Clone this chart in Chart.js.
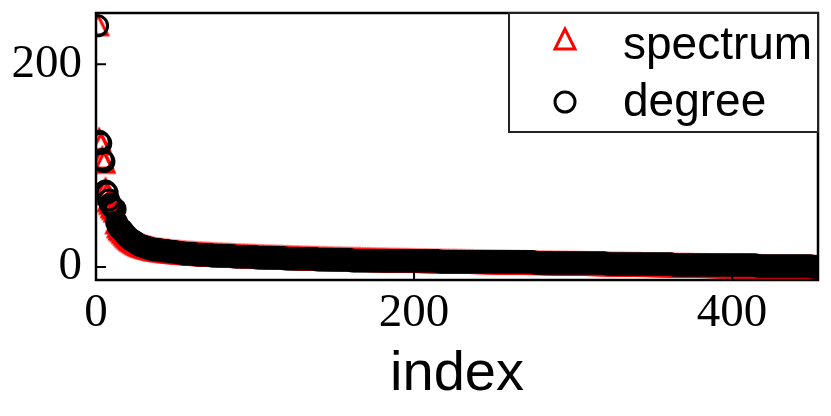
<!DOCTYPE html>
<html lang="en">
<head>
    <meta charset="UTF-8">
    <title>Spectrum vs Degree</title>
    <script src="https://cdn.jsdelivr.net/npm/chart.js"></script>
    <style>
        body {
            margin: 0;
            padding: 0;
            background: white;
        }
        #chartCanvas {
            display: block;
        }
    </style>
</head>
<body>
    <canvas id="chartCanvas" width="831" height="416"></canvas>

    <script>
        // values, one per index (x = 1..453)
        const spectrum = [
            239.0,125.6,121.3,107.4,103.2,76.3,72.1,65.4,62.8,59.5,
            57.6,55.2,43.5,39.6,37.4,35.9,34.1,32.3,30.6,29.1,
            27.6,26.5,25.5,24.4,23.5,22.6,21.8,21.2,20.6,20.1,
            19.6,19.2,18.7,18.3,17.9,
            17.5,17.2,16.9,16.7,16.4,
            16.2,16.0,15.8,15.6,15.4,
            15.2,15.0,14.8,14.7,14.5,
            14.4,14.2,14.1,13.9,13.8,
            13.7,13.5,13.4,13.3,13.2,
            13.1,13.0,12.9,12.8,12.7,12.6,12.5,12.4,12.3,12.3,
            12.2,12.1,12.0,11.9,11.9,11.8,11.7,11.6,11.6,11.5,
            11.4,11.3,11.3,11.2,11.1,11.0,11.0,10.9,10.8,10.8,
            10.7,10.6,10.6,10.5,10.4,10.4,10.3,10.2,10.2,10.1,
            10.0,10.0,9.9,9.9,9.8,9.7,9.7,9.6,9.6,9.5,
            9.5,9.4,9.4,9.3,9.3,9.2,9.2,9.1,9.1,9.0,
            9.0,8.9,8.9,8.8,8.8,8.7,8.7,8.6,8.6,8.5,
            8.5,8.4,8.4,8.4,8.3,8.3,8.2,8.2,8.1,8.1,
            8.0,8.0,8.0,7.9,7.9,7.8,7.8,7.8,7.7,7.7,
            7.6,7.6,7.6,7.5,7.5,7.4,7.4,7.4,7.3,7.3,
            7.3,7.2,7.2,7.1,7.1,7.1,7.0,7.0,7.0,6.9,
            6.9,6.9,6.8,6.8,6.8,6.7,6.7,6.7,6.6,6.6,
            6.6,6.5,6.5,6.5,6.4,6.4,6.4,6.3,6.3,6.3,
            6.3,6.2,6.2,6.2,6.1,6.1,6.1,6.0,6.0,6.0,
            6.0,5.9,5.9,5.9,5.8,5.8,5.8,5.8,5.7,5.7,
            5.7,5.6,5.6,5.6,5.6,5.5,5.5,5.5,5.5,5.4,
            5.4,5.4,5.3,5.3,5.3,5.3,5.2,5.2,5.2,5.2,
            5.1,5.1,5.1,5.0,5.0,5.0,5.0,4.9,4.9,4.9,
            4.9,4.8,4.8,4.8,4.7,4.7,4.7,4.7,4.6,4.6,
            4.6,4.6,4.5,4.5,4.5,4.4,4.4,4.4,4.4,4.3,
            4.3,4.3,4.3,4.2,4.2,4.2,4.1,4.1,4.1,4.1,
            4.0,4.0,4.0,4.0,3.9,3.9,3.9,3.8,3.8,3.8,
            3.8,3.7,3.7,3.7,3.7,3.6,3.6,3.6,3.5,3.5,
            3.5,3.5,3.4,3.4,3.4,3.4,3.3,3.3,3.3,3.2,
            3.2,3.2,3.2,3.1,3.1,3.1,3.1,3.0,3.0,3.0,
            2.9,2.9,2.9,2.9,2.8,2.8,2.8,2.8,2.7,2.7,
            2.7,2.6,2.6,2.6,2.6,2.5,2.5,2.5,2.5,2.4,
            2.4,2.4,2.3,2.3,2.3,2.3,2.2,2.2,2.2,2.2,
            2.1,2.1,2.1,2.0,2.0,2.0,2.0,1.9,1.9,1.9,
            1.9,1.8,1.8,1.8,1.7,1.7,1.7,1.7,1.6,1.6,
            1.6,1.6,1.5,1.5,1.5,1.4,1.4,1.4,1.4,1.3,
            1.3,1.3,1.3,1.2,1.2,1.2,1.1,1.1,1.1,1.1,
            1.0,1.0,1.0,1.0,0.9,0.9,0.9,0.8,0.8,0.8,
            0.8,0.7,0.7,0.7,0.7,0.6,0.6,0.6,0.5,0.5,
            0.5,0.5,0.4,0.4,0.4,0.4,0.3,0.3,0.3,0.2,
            0.2,0.2,0.2,0.1,0.1,0.1,0.1,0.0,0.0,0.0,
            0.0,-0.1,-0.1,-0.1,-0.1,-0.1,-0.2,-0.2,-0.2,-0.2,
            -0.2,-0.3,-0.3,-0.3,-0.3,-0.3,-0.4,-0.4,-0.4,-0.4,
            -0.4,-0.4,-0.5,-0.5,-0.5,-0.5,-0.5,-0.5,-0.6,-0.6,-0.6,-0.6,-0.6
        ];

        const degree = [
            238,124,122,106,104,75,73,66,62,60,
            58,57,44,40,38,37,35,33,31,30,
            28,27,26,25,24,23,22,21,21,20,
            20,19,19,18,18,
            17,17,17,17,17,16,16,16,16,16,
            15,15,15,15,15,14,14,14,14,13,
            13,13,13,13,13,13,13,12,12,12,
            12,12,12,12,12,12,12,11,11,11,
            11,11,11,11,11,11,11,11,11,11,
            11,10,10,10,10,10,10,10,10,10,
            10,10,10,10,10,9,9,9,9,9,
            9,9,9,9,9,9,9,9,9,9,
            9,9,9,8,8,8,8,8,8,8,
            8,8,8,8,8,8,8,8,8,8,
            8,8,8,7,7,7,7,7,7,7,
            7,7,7,7,7,7,7,7,7,7,
            7,7,7,7,7,6,6,6,6,6,
            6,6,6,6,6,6,6,6,6,6,
            6,6,6,6,6,6,6,6,6,6,
            6,6,6,6,6,6,6,6,6,6,
            6,6,6,6,6,6,6,6,6,6,
            6,6,6,6,6,6,6,6,6,6,
            5,5,5,5,5,5,5,5,5,5,
            5,5,5,5,5,5,5,5,5,5,
            5,5,5,5,5,5,5,5,5,5,
            5,5,5,5,5,5,5,5,5,5,
            5,5,5,5,5,5,5,5,5,5,
            5,5,5,5,5,5,5,5,5,5,
            4,4,4,4,4,4,4,4,4,4,
            4,4,4,4,4,4,4,4,4,4,
            4,4,4,4,4,4,4,4,4,4,
            4,4,4,4,4,4,4,4,4,4,
            4,4,4,4,4,3,3,3,3,3,
            3,3,3,3,3,3,3,3,3,3,
            3,3,3,3,3,3,3,3,3,3,
            3,3,3,3,3,3,3,3,3,3,
            3,3,3,3,3,3,3,2,2,2,
            2,2,2,2,2,2,2,2,2,2,
            2,2,2,2,2,2,2,2,2,2,
            2,2,2,2,2,2,2,2,2,2,
            2,2,2,2,2,2,2,2,2,2,
            2,2,2,2,2,2,2,2,2,2,
            1,1,1,1,1,1,1,1,1,1,
            1,1,1,1,1,1,1,1,1,1,
            1,1,1,1,1,1,1,1,1,1,
            1,1,1,1,1,0,0,0
        ];

        const seriesLabels = ['spectrum', 'degree'];
        const xTicks = [0, 200, 400];
        const yTicks = [0, 200];
        const xTitle = 'index';

        const SERIF = '"Liberation Serif", "DejaVu Serif", serif';
        const SANS = '"Liberation Sans", "DejaVu Sans", sans-serif';

        // matplotlib-like '^' marker (isoceles, open)
        const makeTriangle = () => {
            const c = document.createElement('canvas');
            c.width = 32;
            c.height = 32;
            const g = c.getContext('2d');
            g.strokeStyle = '#ff0000';
            g.lineWidth = 3;
            g.lineJoin = 'miter';
            g.beginPath();
            g.moveTo(16, 6);
            g.lineTo(6, 26);
            g.lineTo(26, 26);
            g.closePath();
            g.stroke();
            return c;
        };
        const triangle = makeTriangle();

        const toPoints = (values) => values.map((v, i) => ({ x: i + 1, y: v }));

        const drawCircle = (ctx, x, y) => {
            ctx.beginPath();
            ctx.arc(x, y, 10, 0, Math.PI * 2);
            ctx.strokeStyle = '#000';
            ctx.lineWidth = 3;
            ctx.stroke();
        };

        // frame round the plot + inward ticks
        const framePlugin = {
            id: 'frame',
            afterDatasetsDraw(chart) {
                const { ctx, chartArea: a, scales } = chart;
                ctx.save();
                ctx.strokeStyle = '#000';
                ctx.lineWidth = 2;
                ctx.beginPath();
                xTicks.forEach(v => {
                    const px = scales.x.getPixelForValue(v);
                    ctx.moveTo(px, a.bottom);
                    ctx.lineTo(px, a.bottom - 9);
                });
                yTicks.forEach(v => {
                    const py = scales.y.getPixelForValue(v);
                    ctx.moveTo(a.left, py);
                    ctx.lineTo(a.left + 10, py);
                });
                ctx.stroke();
                ctx.lineWidth = 2.5;
                ctx.strokeRect(a.left, a.top, a.right - a.left, a.bottom - a.top);
                ctx.restore();
            }
        };

        // boxed legend in the upper right corner of the plot
        const legendPlugin = {
            id: 'boxLegend',
            afterDraw(chart) {
                const { ctx, chartArea: a } = chart;
                const w = 309, h = 119;
                const left = a.right - w, top = a.top;
                ctx.save();
                ctx.fillStyle = 'white';
                ctx.fillRect(left, top, w, h);
                ctx.strokeStyle = '#222';
                ctx.lineWidth = 2;
                ctx.strokeRect(left, top, w, h);

                ctx.drawImage(triangle, left + 56 - 16, top + 26 - 16);
                drawCircle(ctx, left + 56, top + 89);

                ctx.fillStyle = '#000';
                ctx.font = '46px ' + SANS;
                ctx.textAlign = 'left';
                ctx.textBaseline = 'alphabetic';
                ctx.fillText(chart.data.datasets[1].label, left + 114, top + 46);
                ctx.fillText(chart.data.datasets[0].label, left + 114, top + 103);
                ctx.restore();
            }
        };

        const noPad = s => {
            s.paddingTop = 0;
            s.paddingBottom = 0;
            s.paddingLeft = 0;
            s.paddingRight = 0;
        };

        new Chart(document.getElementById('chartCanvas'), {
            type: 'scatter',
            data: {
                datasets: [
                    {
                        label: seriesLabels[1],
                        data: toPoints(degree),
                        pointStyle: 'circle',
                        pointRadius: 10,
                        pointBorderWidth: 3,
                        borderColor: '#000',
                        backgroundColor: 'rgba(0,0,0,0)',
                        clip: 0,
                        order: 0
                    },
                    {
                        label: seriesLabels[0],
                        data: toPoints(spectrum),
                        pointStyle: triangle,
                        pointRadius: 10,
                        borderColor: '#ff0000',
                        backgroundColor: 'rgba(0,0,0,0)',
                        clip: 0,
                        order: 1
                    }
                ]
            },
            options: {
                responsive: false,
                animation: false,
                events: [],
                layout: {
                    padding: { top: 9, right: 10, left: 0, bottom: 0 }
                },
                plugins: {
                    legend: { display: false },
                    tooltip: { enabled: false }
                },
                scales: {
                    x: {
                        type: 'linear',
                        min: 0,
                        max: 454,
                        grid: { display: false, drawTicks: false },
                        border: { display: false },
                        afterBuildTicks: s => { s.ticks = xTicks.map(v => ({ value: v })); },
                        afterFit: s => { s.height = 136; noPad(s); },
                        ticks: {
                            padding: 5,
                            color: '#000',
                            maxRotation: 0,
                            font: { family: SERIF, size: 47 }
                        },
                        title: {
                            display: true,
                            text: xTitle,
                            color: '#000',
                            font: { family: SANS, size: 56, lineHeight: 1.2 },
                            padding: { top: 0, bottom: 8 }
                        }
                    },
                    y: {
                        type: 'linear',
                        min: -12.9,
                        max: 250.6,
                        grid: { display: false, drawTicks: false },
                        border: { display: false },
                        afterBuildTicks: s => { s.ticks = yTicks.map(v => ({ value: v })); },
                        afterFit: s => { s.width = 96; noPad(s); },
                        ticks: {
                            padding: 14,
                            color: '#000',
                            font: { family: SERIF, size: 47 }
                        }
                    }
                }
            },
            plugins: [framePlugin, legendPlugin]
        });
    </script>
</body>
</html>
